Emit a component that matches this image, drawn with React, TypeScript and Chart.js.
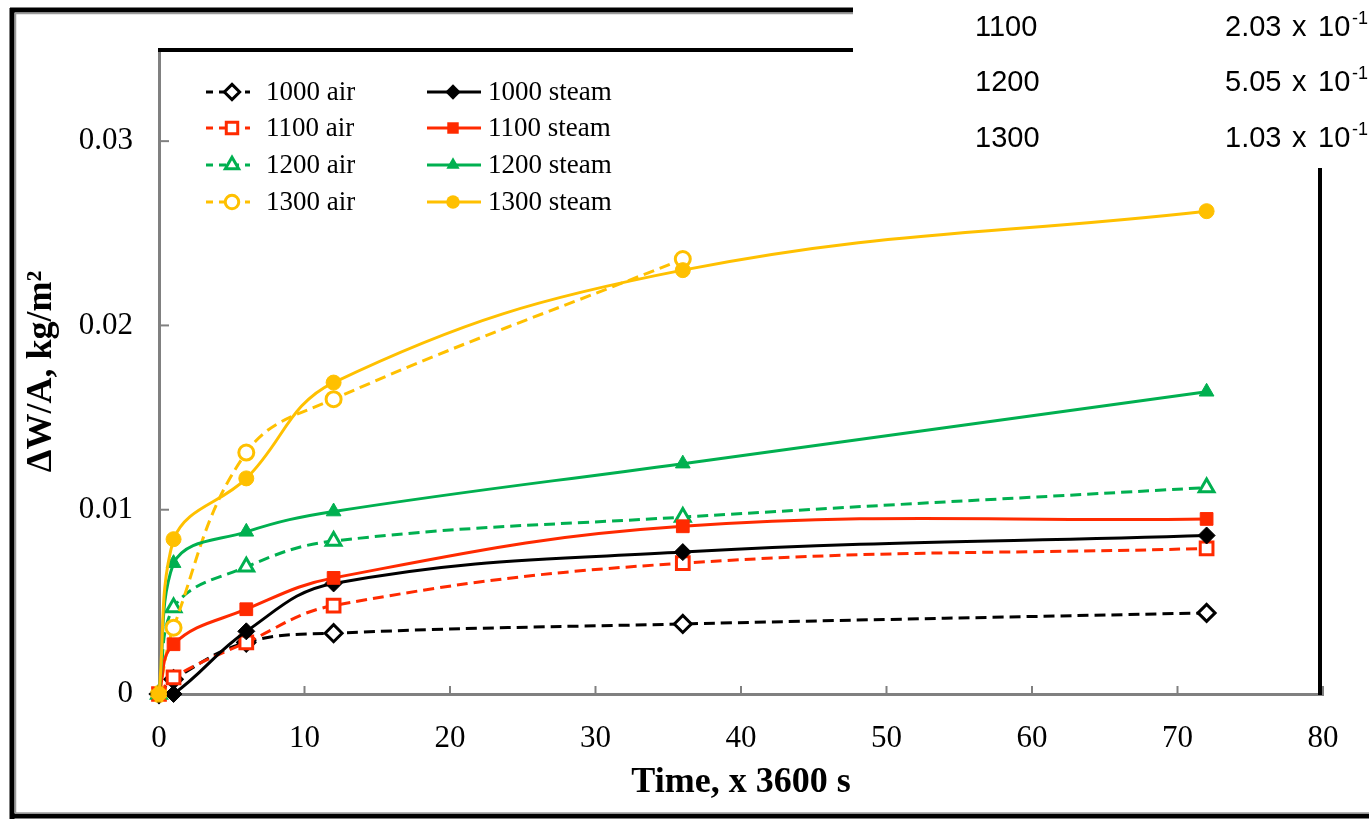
import React, { useEffect, useRef } from 'react';
import { Chart, registerables } from 'chart.js';

Chart.register(...registerables);

// ---- data ----
const times = [0, 1, 6, 12, 36, 72];
const timesAir1300 = [0, 1, 6, 12, 36];
const air1000 = [0, 0.0008, 0.0028, 0.0033, 0.0038, 0.0044];
const steam1000 = [0, 0, 0.0034, 0.0060, 0.0077, 0.0086];
const air1100 = [0, 0.0009, 0.0028, 0.0048, 0.0071, 0.0079];
const steam1100 = [0, 0.0027, 0.0046, 0.0063, 0.0091, 0.0095];
const air1200 = [0, 0.0047, 0.0069, 0.0083, 0.0096, 0.0112];
const steam1200 = [0, 0.0071, 0.0088, 0.0099, 0.0125, 0.0164];
const air1300 = [0, 0.0036, 0.0131, 0.0160, 0.0236];
const steam1300 = [0, 0.0084, 0.0117, 0.0169, 0.0230, 0.0262];

const seriesLabels = ['1000 air', '1100 air', '1200 air', '1300 air', '1000 steam', '1100 steam', '1200 steam', '1300 steam'];
const seriesColors = ['#000000', '#ff2a00', '#00b050', '#ffc000', '#000000', '#ff2a00', '#00b050', '#ffc000'];
const seriesMarkers = ['rectRot', 'rect', 'triangle', 'circle', 'rectRot', 'rect', 'triangle', 'circle'];
const markerRadius: Record<string, number> = { rectRot: 8.5, rect: 9, triangle: 8.5, circle: 7.5 };

const xTicks = [0, 10, 20, 30, 40, 50, 60, 70, 80];
const yTicks = [0, 0.01, 0.02, 0.03];
const yTickLabels = ['0', '0.01', '0.02', '0.03'];

const tableTemps = ['1100', '1200', '1300'];
const tableMantissa = ['2.03', '5.05', '1.03'];
const tableTimes = 'x';
const tableBase = '10';
const tableExp = '-1';

const xTitle = 'Time, x 3600 s';
const yTitle = 'ΔW/A, kg/m²';

const toPts = (xs: number[], ys: number[]) => xs.map((x, i) => ({ x, y: ys[i] }));

function markerPath(ctx: CanvasRenderingContext2D, style: string, x: number, y: number, r: number) {
  ctx.beginPath();
  if (style === 'rectRot') {
    ctx.moveTo(x, y - r);
    ctx.lineTo(x + r, y);
    ctx.lineTo(x, y + r);
    ctx.lineTo(x - r, y);
    ctx.closePath();
  } else if (style === 'rect') {
    const s = r * Math.SQRT1_2;
    ctx.rect(x - s, y - s, 2 * s, 2 * s);
  } else if (style === 'triangle') {
    ctx.moveTo(x, y - r);
    ctx.lineTo(x + r * 0.866, y + r * 0.5);
    ctx.lineTo(x - r * 0.866, y + r * 0.5);
    ctx.closePath();
  } else {
    ctx.arc(x, y, r, 0, Math.PI * 2);
  }
}

// inner tick marks drawn before datasets so markers stay on top
const tickPlugin = {
  id: 'innerTicks',
  beforeDatasetsDraw(chart: any) {
    const ctx: CanvasRenderingContext2D = chart.ctx;
    const { left, bottom } = chart.chartArea;
    const xs = chart.scales.x;
    const ys = chart.scales.y;
    ctx.save();
    ctx.strokeStyle = '#808080';
    ctx.lineWidth = 2;
    xTicks.forEach((v) => {
      if (v === 0) return;
      const px = xs.getPixelForValue(v);
      ctx.beginPath();
      ctx.moveTo(px, bottom);
      ctx.lineTo(px, bottom - 8);
      ctx.stroke();
    });
    yTicks.forEach((v) => {
      if (v === 0) return;
      const py = ys.getPixelForValue(v);
      ctx.beginPath();
      ctx.moveTo(left, py);
      ctx.lineTo(left + 10, py);
      ctx.stroke();
    });
    ctx.restore();
  },
};

const decorPlugin = {
  id: 'decor',
  afterDraw(chart: any) {
    const ctx: CanvasRenderingContext2D = chart.ctx;
    const { left, right, top, bottom } = chart.chartArea;
    ctx.save();

    // plot top border (partial) and right border
    ctx.strokeStyle = '#000';
    ctx.lineWidth = 4;
    ctx.beginPath();
    ctx.moveTo(left - 1, top + 1);
    ctx.lineTo(853, top + 1);
    ctx.stroke();
    ctx.beginPath();
    ctx.moveTo(right - 3, 168);
    ctx.lineTo(right - 3, bottom + 1);
    ctx.stroke();

    // outer frame
    ctx.lineWidth = 5;
    ctx.beginPath();
    ctx.moveTo(10, 10);
    ctx.lineTo(853, 10);
    ctx.stroke();
    ctx.beginPath();
    ctx.moveTo(12, 8);
    ctx.lineTo(12, 819);
    ctx.stroke();
    ctx.beginPath();
    ctx.moveTo(10, 816);
    ctx.lineTo(1369, 816);
    ctx.stroke();
    ctx.strokeStyle = '#9a9a9a';
    ctx.lineWidth = 1.5;
    ctx.beginPath();
    ctx.moveTo(15, 13.5);
    ctx.lineTo(853, 13.5);
    ctx.stroke();
    ctx.beginPath();
    ctx.moveTo(15.5, 13);
    ctx.lineTo(15.5, 813);
    ctx.stroke();
    ctx.beginPath();
    ctx.moveTo(15, 813);
    ctx.lineTo(1369, 813);
    ctx.stroke();

    // table text
    ctx.fillStyle = '#000';
    ctx.textBaseline = 'middle';
    ctx.textAlign = 'left';
    const rowsY = [28, 83, 139];
    tableTemps.forEach((t, i) => {
      const y = rowsY[i];
      ctx.font = '29px "Liberation Sans", Arial, sans-serif';
      ctx.fillText(t, 975, y);
      ctx.fillText(tableMantissa[i], 1225, y);
      ctx.fillText(tableTimes, 1292, y);
      ctx.fillText(tableBase, 1318, y);
      ctx.font = '18px "Liberation Sans", Arial, sans-serif';
      ctx.fillText(tableExp, 1352, y - 9);
    });

    // legend
    const legendRows = [92, 128, 165, 202];
    ctx.font = '27px "Liberation Serif", "Times New Roman", serif';
    seriesLabels.forEach((lab, i) => {
      const col = i < 4 ? 0 : 1;
      const row = i % 4;
      const y = legendRows[row];
      const x0 = col === 0 ? 206 : 427;
      const x1 = col === 0 ? 250 : 481;
      const mx = col === 0 ? 232 : 453;
      const tx = col === 0 ? 266 : 488;
      const color = seriesColors[i];
      ctx.strokeStyle = color;
      ctx.lineWidth = 3;
      ctx.setLineDash(col === 0 ? [7, 6] : []);
      ctx.beginPath();
      ctx.moveTo(x0, y);
      ctx.lineTo(x1, y);
      ctx.stroke();
      ctx.setLineDash([]);
      const st = seriesMarkers[i];
      const r = markerRadius[st] * 0.9;
      markerPath(ctx, st, mx, y, r);
      ctx.fillStyle = col === 0 ? '#fff' : color;
      ctx.fill();
      if (col === 0) {
        ctx.lineWidth = 3;
        ctx.stroke();
      }
      ctx.fillStyle = '#000';
      ctx.textBaseline = 'middle';
      ctx.fillText(lab, tx, y + 1);
    });

    ctx.restore();
  },
};

export default function App() {
  const ref = useRef<HTMLCanvasElement>(null);
  useEffect(() => {
    document.body.style.margin = '0';
    const canvas = ref.current!;
    const seriesData = [
      toPts(times, air1000),
      toPts(times, air1100),
      toPts(times, air1200),
      toPts(timesAir1300, air1300),
      toPts(times, steam1000),
      toPts(times, steam1100),
      toPts(times, steam1200),
      toPts(times, steam1300),
    ];
    const datasets = seriesLabels.map((label, i) => {
      const isAir = i < 4;
      const st = seriesMarkers[i];
      return {
        label,
        data: seriesData[i],
        borderColor: seriesColors[i],
        backgroundColor: isAir ? '#ffffff' : seriesColors[i],
        pointBackgroundColor: isAir ? '#ffffff' : seriesColors[i],
        pointBorderColor: seriesColors[i],
        pointBorderWidth: isAir ? 3 : 1,
        pointStyle: st,
        pointRadius: markerRadius[st],
        borderWidth: 3,
        borderDash: isAir ? [11, 6] : [],
        tension: 0.4,
        fill: false,
        clip: false,
        order: seriesLabels.length - 1 - i,
      };
    });
    const chart = new Chart(canvas, {
      type: 'line',
      data: { datasets } as any,
      options: {
        responsive: false,
        animation: false,
        devicePixelRatio: 1,
        layout: { padding: { top: 49, right: 46, left: 0, bottom: 0 } },
        plugins: { legend: { display: false }, tooltip: { enabled: false } },
        scales: {
          x: {
            type: 'linear',
            position: 'bottom',
            min: 0,
            max: 80,
            grid: { display: false, drawTicks: false },
            border: { display: true, color: '#808080', width: 3 },
            afterBuildTicks: (s: any) => {
              s.ticks = xTicks.map((v) => ({ value: v }));
            },
            afterFit: (s: any) => {
              s.height = 125;
            },
            ticks: {
              color: '#000',
              padding: 26,
              maxRotation: 0,
              font: { family: '"Liberation Serif", "Times New Roman", serif', size: 31 },
              callback: (v: any) => String(v),
            },
            title: {
              display: true,
              text: xTitle,
              color: '#000',
              font: { family: '"Liberation Serif", "Times New Roman", serif', size: 36, weight: 'bold', lineHeight: 1 },
              padding: { top: 0, bottom: 18 },
            },
          },
          y: {
            type: 'linear',
            min: 0,
            max: 0.035,
            grid: { display: false, drawTicks: false },
            border: { display: true, color: '#808080', width: 3 },
            afterBuildTicks: (s: any) => {
              s.ticks = yTicks.map((v) => ({ value: v }));
            },
            afterFit: (s: any) => {
              s.width = 159;
            },
            ticks: {
              color: '#000',
              padding: 26,
              font: { family: '"Liberation Serif", "Times New Roman", serif', size: 31 },
              callback: (v: any) => {
                const idx = yTicks.findIndex((t) => Math.abs(t - Number(v)) < 1e-9);
                return idx >= 0 ? yTickLabels[idx] : '';
              },
            },
            title: {
              display: true,
              text: yTitle,
              color: '#000',
              font: { family: '"Liberation Serif", "Times New Roman", serif', size: 36, weight: 'bold', lineHeight: 1 },
              padding: { top: 24, bottom: 0 },
            },
          },
        },
      } as any,
      plugins: [tickPlugin, decorPlugin],
    });
    return () => chart.destroy();
  }, []);
  return (
    <div style={{ position: 'absolute', left: 0, top: 0, width: 1369, height: 819, background: '#fff' }}>
      <canvas ref={ref} width={1369} height={819} style={{ display: 'block', width: 1369, height: 819 }} />
    </div>
  );
}
